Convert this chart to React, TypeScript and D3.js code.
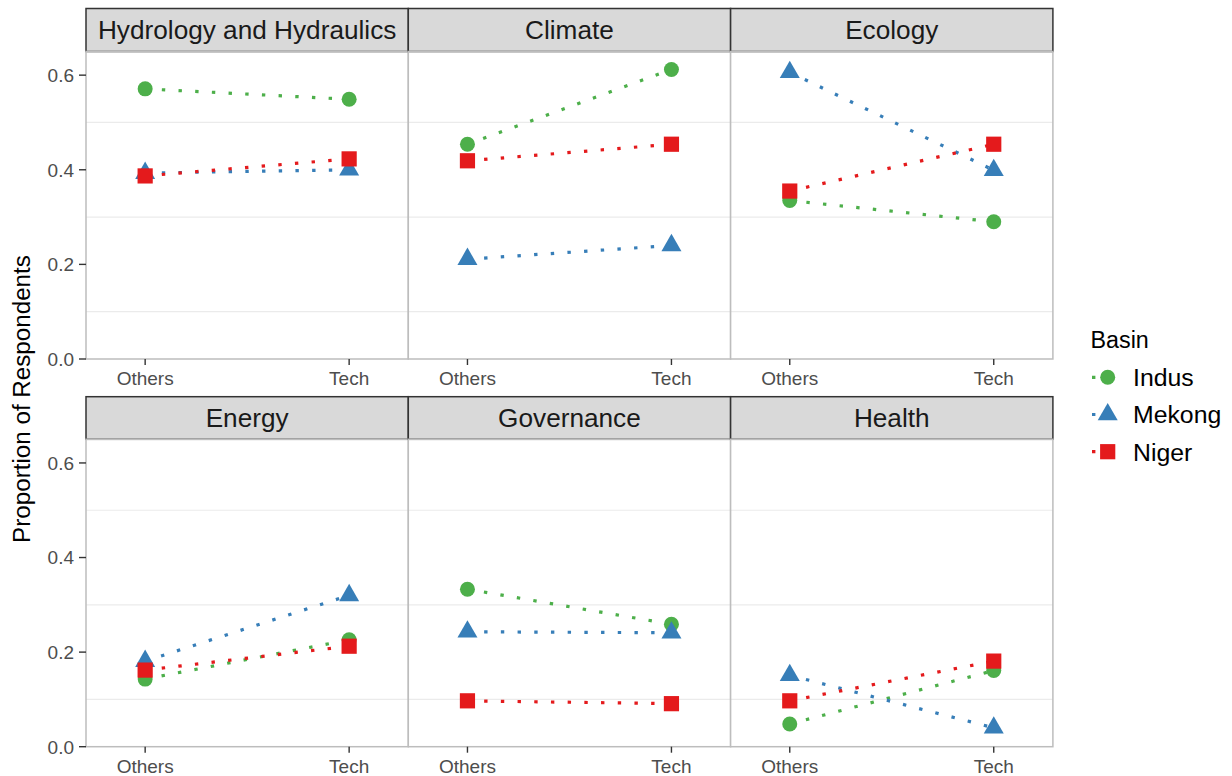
import React from "react";
import * as d3 from "d3";

const categories = ["Others", "Tech"];
const facets = ["Hydrology and Hydraulics", "Climate", "Ecology", "Energy", "Governance", "Health"];
const basins = ["Indus", "Mekong", "Niger"];
// [Others, Tech] per facet
const indus = [[0.571, 0.549], [0.454, 0.612], [0.335, 0.29], [0.143, 0.226], [0.333, 0.259], [0.048, 0.161]];
const mekong = [[0.393, 0.4], [0.211, 0.24], [0.606, 0.399], [0.181, 0.32], [0.243, 0.241], [0.151, 0.04]];
const niger = [[0.387, 0.423], [0.419, 0.454], [0.355, 0.454], [0.162, 0.2125], [0.097, 0.091], [0.097, 0.181]];
const yTicks = [0, 0.2, 0.4, 0.6];
const yMinor = [0.1, 0.3, 0.5];

const seriesValues = [indus, mekong, niger];
const colors = ["#4daf4a", "#377eb8", "#e41a1c"];
const FONT = "'Liberation Sans', Arial, Helvetica, sans-serif";

function Marker({ shape, x, y, color }: { shape: number; x: number; y: number; color: string }) {
  if (shape === 0) return <circle cx={x} cy={y} r={7.5} fill={color} />;
  if (shape === 1) {
    const hw = 10, up = 11.6, dn = 5.8;
    return <path d={`M${x},${y - up}L${x + hw},${y + dn}L${x - hw},${y + dn}Z`} fill={color} />;
  }
  return <rect x={x - 7.6} y={y - 7.6} width={15.2} height={15.2} fill={color} />;
}

export default function App() {
  const panelLeft = 86;
  const panelW = 322.3;
  const rows = [
    { stripTop: 8.5, top: 51.5, bottom: 359 },
    { stripTop: 396.7, top: 439.3, bottom: 746.7 },
  ];
  const dash = "3.4,13.3";

  return (
    <svg width={1232} height={776} style={{ position: "absolute", left: 0, top: 0, background: "#fff" }} fontFamily={FONT}>
      <rect x={0} y={0} width={1232} height={776} fill="#fff" />
      {facets.map((f, fi) => {
        const row = rows[Math.floor(fi / 3)];
        const col = fi % 3;
        const x0 = panelLeft + col * panelW;
        const x1 = x0 + panelW;
        const x = d3.scalePoint<string>().domain(categories).range([x0, x1]).padding(0.29);
        const y = d3.scaleLinear().domain([0, 0.65]).range([row.bottom, row.top]);
        const line = d3
          .line<number>()
          .x((_, i) => x(categories[i]) as number)
          .y((d) => y(d));
        return (
          <g key={f}>
            <rect x={x0} y={row.top} width={panelW} height={row.bottom - row.top} fill="#fff" />
            {yMinor.map((v) => (
              <line key={v} x1={x0} x2={x1} y1={y(v)} y2={y(v)} stroke="#ebebeb" strokeWidth={1.2} />
            ))}
            {/* strip */}
            <rect x={x0} y={row.stripTop} width={panelW} height={row.top - row.stripTop} fill="#d9d9d9" stroke="#333333" strokeWidth={1.5} />
            <text x={(x0 + x1) / 2} y={(row.stripTop + row.top) / 2 + 9.3} textAnchor="middle" fontSize={26.2} fill="#1a1a1a">
              {f}
            </text>
            {/* lines */}
            {seriesValues.map((s, si) => (
              <path key={si} d={line(s[fi]) || ""} fill="none" stroke={colors[si]} strokeWidth={3.2} strokeDasharray={dash} />
            ))}
            {/* points */}
            {seriesValues.map((s, si) =>
              s[fi].map((v, ci) => (
                <Marker key={`${si}-${ci}`} shape={si} x={x(categories[ci]) as number} y={y(v)} color={colors[si]} />
              ))
            )}
            {/* panel border */}
            <rect x={x0} y={row.top} width={panelW} height={row.bottom - row.top} fill="none" stroke="#bdbdbd" strokeWidth={1.5} />
            {/* x axis */}
            {categories.map((c) => (
              <g key={c}>
                <line x1={x(c) as number} x2={x(c) as number} y1={row.bottom} y2={row.bottom + 6} stroke="#333" strokeWidth={1.4} />
                <text x={x(c) as number} y={row.bottom + 26} textAnchor="middle" fontSize={19} fill="#4d4d4d">
                  {c}
                </text>
              </g>
            ))}
            {/* y axis */}
            {col === 0 &&
              yTicks.map((t) => (
                <g key={t}>
                  <line x1={x0 - 7} x2={x0} y1={y(t)} y2={y(t)} stroke="#333" strokeWidth={1.4} />
                  <text x={x0 - 12} y={y(t) + 6.8} textAnchor="end" fontSize={19} fill="#4d4d4d">
                    {d3.format(".1f")(t)}
                  </text>
                </g>
              ))}
          </g>
        );
      })}
      <text transform="translate(30,399) rotate(-90)" textAnchor="middle" fontSize={24.2} fill="#000">
        Proportion of Respondents
      </text>
      {/* legend */}
      <text x={1090.5} y={348.3} fontSize={23.3} fill="#000">
        Basin
      </text>
      {basins.map((b, i) => {
        const cy = 377.3 + i * 37.2;
        return (
          <g key={b}>
            <line x1={1092} x2={1124} y1={cy} y2={cy} stroke={colors[i]} strokeWidth={3.2} strokeDasharray={dash} />
            <Marker shape={i} x={1107.7} y={cy} color={colors[i]} />
            <text x={1133} y={cy + 8.8} fontSize={24.8} fill="#000">
              {b}
            </text>
          </g>
        );
      })}
    </svg>
  );
}
